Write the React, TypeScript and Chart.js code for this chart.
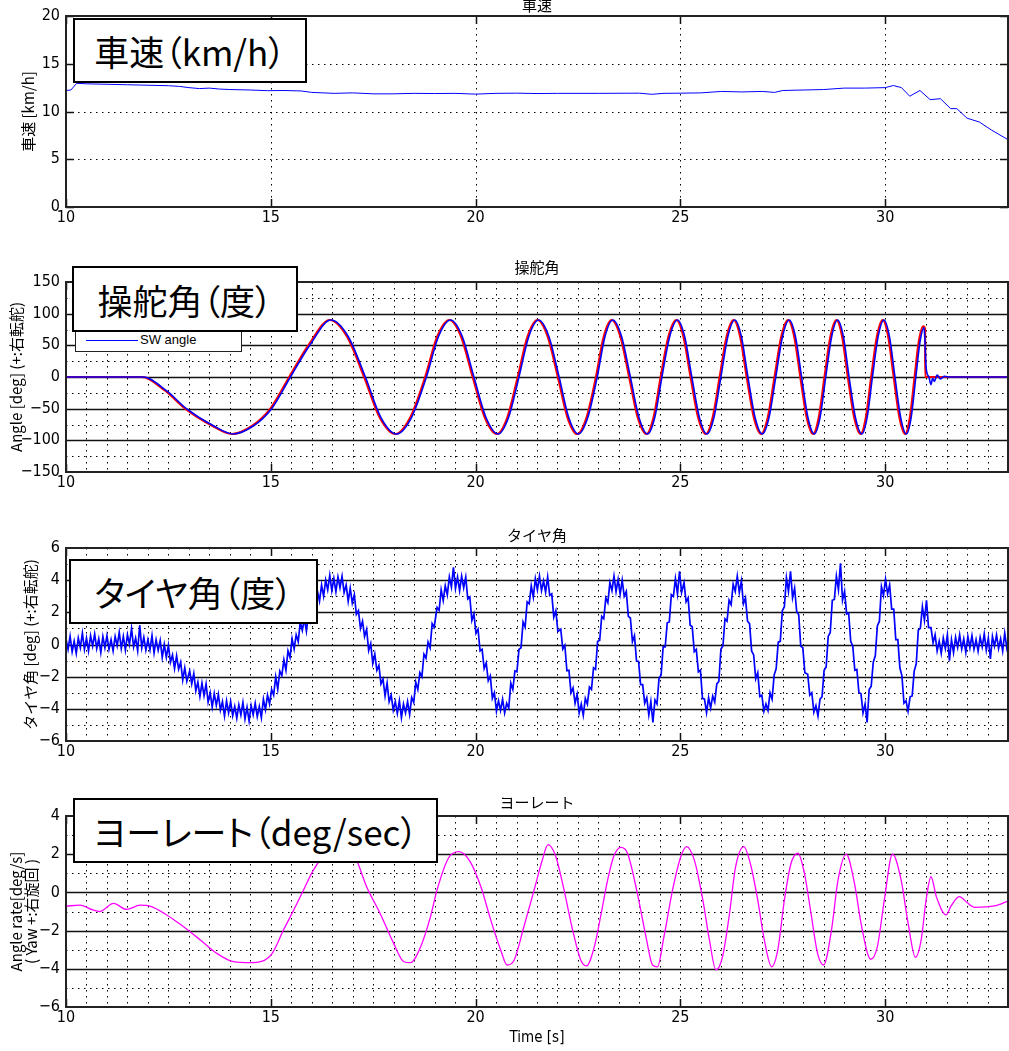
import React, { useEffect, useRef } from 'react';
import { Chart, registerables } from 'chart.js';

Chart.register(...registerables);

// ---------------- data ----------------
const X_MIN = 10;
const X_MAX = 33;
const X_TICK_LABELS = [10, 15, 20, 25, 30];

const Y1_TICKS = [0, 5, 10, 15, 20];
const Y2_TICKS = [-150, -100, -50, 0, 50, 100, 150];
const Y3_TICKS = [-6, -4, -2, 0, 2, 4, 6];
const Y4_TICKS = [-6, -4, -2, 0, 2, 4];

// vehicle speed [km/h]
const SPEED_T = [10.0, 10.12, 10.26, 10.5, 11.0, 11.5, 12.0, 12.5, 12.77, 13.0, 13.26, 13.5, 13.75, 14.0, 14.5, 14.92, 15.3, 15.74, 16.0, 16.55, 17.0, 17.5, 18.0, 18.5, 19.0, 19.5, 20.0, 20.5, 21.0, 21.5, 22.0, 23.0, 24.0, 24.3, 24.6, 25.0, 25.5, 26.0, 26.5, 27.0, 27.3, 27.5, 28.0, 28.5, 29.0, 29.5, 30.0, 30.2, 30.4, 30.6, 30.85, 31.1, 31.35, 31.6, 31.75, 32.0, 32.3, 32.6, 33.0];
const SPEED_V = [12.2, 12.25, 12.95, 12.9, 12.85, 12.8, 12.75, 12.7, 12.63, 12.5, 12.4, 12.45, 12.35, 12.3, 12.25, 12.18, 12.2, 12.15, 12.0, 11.9, 11.95, 11.85, 11.85, 11.9, 11.88, 11.9, 11.82, 11.9, 11.92, 11.88, 11.9, 11.9, 11.92, 11.8, 11.9, 11.92, 11.95, 12.1, 12.05, 12.1, 12.0, 12.2, 12.25, 12.3, 12.45, 12.45, 12.5, 12.72, 12.5, 11.6, 12.2, 11.24, 11.34, 10.3, 10.3, 9.3, 8.9, 8.05, 7.05];

// steering wheel angle, measured (blue) [deg]
const SW_T = [10, 11, 11.88, 12.46, 12.94, 13.6, 14.08, 14.58, 15.02, 15.48, 15.96, 16.47,
  16.89, 17.31, 17.69, 18.07, 18.435, 18.8, 19.095, 19.39, 19.675, 19.96, 20.255, 20.55, 20.805, 21.06, 21.3, 21.54,
  21.79, 22.04, 22.275, 22.51, 22.74, 22.97, 23.16, 23.35, 23.565, 23.78, 23.99, 24.2, 24.375, 24.55, 24.74, 24.93,
  25.105, 25.28, 25.465, 25.65, 25.82, 25.99, 26.16, 26.33, 26.49, 26.65, 26.825, 27.0, 27.165, 27.33, 27.495, 27.66,
  27.81, 27.96, 28.115, 28.27, 28.41, 28.55, 28.695, 28.84, 28.98, 29.12, 29.275, 29.43, 29.56, 29.69, 29.83, 29.97,
  30.105, 30.24, 30.38, 30.52, 30.635, 30.75,
  30.85, 30.95, 30.97, 31.0, 31.07, 31.12, 31.16, 31.2, 31.27, 31.35, 31.45, 31.6, 33];
const SW_V = [0, 0, 0, -22, -50, -77, -90, -77, -50, 0, 51, 90,
  64, 0, -64, -90, -64, 0, 64, 90, 64, 0, -64, -90, -64, 0, 64, 90,
  64, 0, -64, -90, -64, 0, 64, 90, 64, 0, -64, -90, -64, 0, 64, 90,
  64, 0, -64, -90, -64, 0, 64, 90, 64, 0, -64, -90, -64, 0, 64, 90,
  64, 0, -64, -90, -64, 0, 64, 90, 64, 0, -64, -90, -64, 0, 64, 90,
  64, 0, -64, -90, -64, 0,
  55, 78, 60, 15, 0, -12, -2, -7, 3, -3, 1, 0, 0];

// steering wheel angle, command (red) [deg]
const SWCMD_T = [10, 11.85, 12.43, 12.91, 13.57, 14.05, 14.55, 14.99, 15.45, 15.93, 16.44,
  16.86, 17.28, 17.66, 18.04, 18.405, 18.77, 19.065, 19.36, 19.645, 19.93, 20.225, 20.52, 20.775, 21.03, 21.27, 21.51,
  21.76, 22.01, 22.245, 22.48, 22.71, 22.94, 23.13, 23.32, 23.535, 23.75, 23.96, 24.17, 24.345, 24.52, 24.71, 24.9,
  25.075, 25.25, 25.435, 25.62, 25.79, 25.96, 26.13, 26.3, 26.46, 26.62, 26.795, 26.97, 27.135, 27.3, 27.465, 27.63,
  27.78, 27.93, 28.085, 28.24, 28.38, 28.52, 28.665, 28.81, 28.95, 29.09, 29.245, 29.4, 29.53, 29.66, 29.8, 29.94,
  30.075, 30.21, 30.35, 30.49, 30.605, 30.72,
  30.82, 30.93, 30.975, 30.98, 33];
const SWCMD_V = [0, 0, -22, -50, -77, -90, -77, -50, 0, 51, 90,
  64, 0, -64, -90, -64, 0, 64, 90, 64, 0, -64, -90, -64, 0, 64, 90,
  64, 0, -64, -90, -64, 0, 64, 90, 64, 0, -64, -90, -64, 0, 64, 90,
  64, 0, -64, -90, -64, 0, 64, 90, 64, 0, -64, -90, -64, 0, 64, 90,
  64, 0, -64, -90, -64, 0, 64, 90, 64, 0, -64, -90, -64, 0, 64, 90,
  64, 0, -64, -90, -64, 0,
  55, 80, 76, 0, 0];

// tyre angle [deg] (noisy measurement, read at ~0.05 s)
const TIRE_T = [
  10.00, 10.05, 10.10, 10.15, 10.20, 10.25, 10.30, 10.35, 10.40, 10.45, 10.50, 10.55, 10.60, 10.65, 10.70, 10.75, 10.80, 10.85, 10.90, 10.95,
  11.00, 11.05, 11.10, 11.15, 11.20, 11.25, 11.30, 11.35, 11.40, 11.45, 11.50, 11.55, 11.60, 11.65, 11.70, 11.75, 11.80, 11.85, 11.90, 11.95,
  12.00, 12.05, 12.10, 12.15, 12.20, 12.25, 12.30, 12.35, 12.40, 12.45, 12.50, 12.55, 12.60, 12.65, 12.70, 12.75, 12.80, 12.85, 12.90, 12.95,
  13.02, 13.07, 13.12, 13.17, 13.22, 13.27, 13.32, 13.37, 13.42, 13.47, 13.52, 13.57, 13.62, 13.67, 13.72, 13.77, 13.82, 13.87, 13.92, 13.97,
  14.02, 14.07, 14.12, 14.17, 14.22, 14.27, 14.32, 14.37, 14.42, 14.47, 14.52, 14.57, 14.62, 14.67, 14.72, 14.77, 14.82, 14.87, 14.92, 14.97,
  15.02, 15.07, 15.12, 15.17, 15.22, 15.27, 15.32, 15.37, 15.42, 15.47, 15.52, 15.57, 15.62, 15.67, 15.72, 15.77, 15.82, 15.87, 15.92, 15.97,
  16.04, 16.09, 16.14, 16.19, 16.24, 16.29, 16.34, 16.39, 16.44, 16.49, 16.54, 16.59, 16.64, 16.69, 16.74, 16.79, 16.84, 16.89, 16.94, 16.99,
  17.04, 17.09, 17.14, 17.19, 17.24, 17.29, 17.34, 17.39, 17.44, 17.49, 17.54, 17.59, 17.64, 17.69, 17.74, 17.79, 17.84, 17.89, 17.94, 17.99,
  18.04, 18.09, 18.14, 18.19, 18.24, 18.29, 18.34, 18.39, 18.44, 18.49, 18.54, 18.59, 18.64, 18.69, 18.74, 18.79, 18.84, 18.89, 18.94, 18.99,
  19.06, 19.11, 19.16, 19.21, 19.26, 19.31, 19.36, 19.41, 19.46, 19.51, 19.56, 19.61, 19.66, 19.71, 19.76, 19.81, 19.86, 19.91, 19.96, 20.01,
  20.06, 20.11, 20.16, 20.21, 20.26, 20.31, 20.36, 20.41, 20.46, 20.51, 20.56, 20.61, 20.66, 20.71, 20.76, 20.81, 20.86, 20.91, 20.96, 21.01,
  21.06, 21.11, 21.16, 21.21, 21.26, 21.31, 21.36, 21.41, 21.46, 21.51, 21.56, 21.61, 21.66, 21.71, 21.76, 21.81, 21.86, 21.91, 21.96, 22.01,
  22.08, 22.13, 22.18, 22.23, 22.28, 22.33, 22.38, 22.43, 22.48, 22.53, 22.58, 22.63, 22.68, 22.73, 22.78, 22.83, 22.88, 22.93, 22.98, 23.03,
  23.08, 23.13, 23.18, 23.23, 23.28, 23.33, 23.38, 23.43, 23.48, 23.53, 23.58, 23.63, 23.68, 23.73, 23.78, 23.83, 23.88, 23.93, 23.98, 24.03,
  24.08, 24.13, 24.18, 24.23, 24.28, 24.33, 24.38, 24.43, 24.48, 24.53, 24.58, 24.63, 24.68, 24.73, 24.78, 24.83, 24.88, 24.93, 24.98, 25.03,
  25.09, 25.14, 25.19, 25.24, 25.29, 25.34, 25.39, 25.44, 25.49, 25.54, 25.59, 25.64, 25.69, 25.74, 25.79, 25.84, 25.89, 25.94, 25.99, 26.04,
  26.09, 26.14, 26.19, 26.24, 26.29, 26.34, 26.39, 26.44, 26.49, 26.54, 26.59, 26.64, 26.69, 26.74, 26.79, 26.84, 26.89, 26.94, 26.99, 27.04,
  27.09, 27.14, 27.19, 27.24, 27.29, 27.34, 27.39, 27.44, 27.49, 27.54, 27.59, 27.64, 27.69, 27.74, 27.79, 27.84, 27.89, 27.94, 27.99, 28.04,
  28.11, 28.16, 28.21, 28.26, 28.31, 28.36, 28.41, 28.46, 28.51, 28.56, 28.61, 28.66, 28.71, 28.76, 28.81, 28.86, 28.91, 28.96, 29.01, 29.06,
  29.11, 29.16, 29.21, 29.26, 29.31, 29.36, 29.41, 29.46, 29.51, 29.56, 29.61, 29.66, 29.71, 29.76, 29.81, 29.86, 29.91, 29.96, 30.01, 30.06,
  30.11, 30.16, 30.21, 30.26, 30.31, 30.36, 30.41, 30.46, 30.51, 30.56, 30.61, 30.66, 30.71, 30.76, 30.81, 30.86, 30.91, 30.96, 31.01, 31.06,
  31.12, 31.17, 31.22, 31.27, 31.32, 31.37, 31.42, 31.47, 31.52, 31.57, 31.62, 31.67, 31.72, 31.77, 31.82, 31.87, 31.92, 31.97, 32.02, 32.07,
  32.12, 32.17, 32.22, 32.27, 32.32, 32.37, 32.42, 32.47, 32.52, 32.57, 32.62, 32.67, 32.72, 32.77, 32.82, 32.87, 32.92, 32.97, 33.02, 33.07, 33.12];
const TIRE_V = [
  0.35, -0.30, 0.50, -0.45, 0.20, -0.55, 0.40, -0.20, 0.70, -0.30, 0.40, -0.40, 0.55, -0.10, 0.65, -0.25, 0.35, -0.50, 0.50, -0.20,
  0.55, -0.30, 0.30, -0.40, 0.50, -0.08, 0.75, -0.25, 0.50, -0.35, 0.60, 0.00, 1.00, -0.15, 0.40, -0.38, 1.20, -0.20, 0.45, -0.35,
  0.30, -0.33, 0.55, -0.53, 0.30, -0.35, 0.25, -0.80, 0.00, -0.80, -0.05, -1.10, -0.65, -1.50, -0.70, -1.53, -1.10, -2.20, -1.45, -2.28,
  -1.65, -2.45, -1.80, -2.88, -2.35, -3.23, -2.40, -3.18, -2.45, -3.58, -3.00, -3.90, -3.05, -3.78, -3.10, -4.08, -3.55, -4.45, -3.50, -4.25,
  -3.55, -4.43, -3.85, -4.58, -3.75, -4.38, -3.60, -4.63, -3.90, -4.75, -3.80, -4.38, -3.65, -4.48, -3.85, -4.55, -3.40, -4.05, -3.15, -3.70,
  -2.80, -3.15, -2.00, -2.78, -1.65, -1.93, -0.95, -1.60, -0.40, -0.80, 0.35, -0.28, 0.60, 0.18, 1.40, 0.88, 1.60, 0.83, 1.90, 1.45,
  2.45, 2.15, 3.30, 2.70, 3.70, 3.00, 4.00, 3.40, 4.30, 3.35, 4.10, 3.28, 4.20, 3.53, 4.25, 3.23, 3.70, 2.68, 3.50, 2.58,
  3.10, 1.88, 2.10, 1.00, 1.45, 0.50, 0.95, -0.38, 0.05, -1.18, -0.60, -1.60, -1.30, -2.45, -2.15, -3.20, -2.40, -3.55, -3.15, -4.08,
  -3.55, -4.28, -3.50, -4.55, -3.70, -4.25, -3.55, -4.35, -3.30, -3.60, -2.35, -2.80, -1.75, -2.00, -0.60, -0.85, 0.15, -0.20, 1.30, 1.08,
  2.30, 2.13, 3.40, 2.73, 3.65, 3.08, 4.20, 3.58, 4.80, 3.48, 4.20, 3.35, 4.25, 3.53, 4.20, 2.83, 2.95, 1.50, 1.90, 0.70,
  0.95, -0.40, -0.30, -1.50, -1.15, -2.25, -1.95, -3.35, -3.00, -4.15, -3.50, -4.10, -3.40, -4.25, -3.65, -3.95, -2.40, -2.80, -1.65, -1.70,
  -0.30, -0.20, 1.40, 1.08, 2.65, 2.53, 3.65, 2.95, 4.10, 3.40, 4.25, 3.35, 3.95, 3.25, 4.20, 3.05, 3.15, 1.70, 2.10, 0.80,
  0.95, -0.28, -0.05, -1.63, -1.60, -3.00, -2.70, -3.65, -3.10, -4.25, -3.70, -4.40, -3.35, -3.70, -2.65, -2.80, -1.45, -1.55, 0.20, 0.25,
  1.75, 1.60, 2.90, 2.60, 3.85, 3.35, 4.25, 3.28, 4.05, 3.13, 4.00, 3.00, 3.30, 1.75, 1.65, 0.18, 0.55, -1.03, -1.05, -2.50,
  -2.50, -3.65, -3.30, -4.38, -3.55, -4.85, -3.45, -3.70, -2.10, -1.90, -0.15, -0.15, 1.35, 1.40, 3.10, 2.98, 4.10, 3.15, 4.55, 3.23,
  3.85, 2.65, 2.90, 1.20, 1.10, -0.45, -0.30, -1.70, -1.60, -3.35, -3.40, -4.23, -3.30, -3.95, -3.20, -3.58, -2.45, -2.30, -0.30, -0.08,
  1.60, 1.45, 2.75, 2.48, 3.75, 3.30, 4.25, 3.23, 3.95, 2.53, 2.90, 1.45, 1.30, -0.40, -0.65, -2.13, -1.75, -3.23, -3.15, -4.15,
  -3.70, -4.10, -3.00, -3.40, -1.90, -1.50, 0.15, 0.20, 2.10, 2.35, 4.15, 3.30, 4.55, 2.90, 3.50, 2.05, 1.85, -0.10, -0.20, -1.75,
  -1.85, -3.15, -3.00, -4.20, -3.80, -4.45, -3.40, -3.25, -1.60, -1.40, 0.50, 0.75, 2.75, 2.80, 4.25, 3.40, 5.05, 2.75, 3.30, 1.90,
  1.95, 0.20, -0.10, -1.60, -1.55, -3.00, -3.05, -4.25, -3.70, -4.85, -2.80, -2.60, -1.10, -0.70, 1.15, 1.45, 3.60, 3.05, 4.05, 3.15,
  3.70, 2.20, 2.20, 0.30, 0.30, -1.45, -1.95, -3.65, -3.50, -4.15, -3.25, -3.20, -1.65, -1.20, 0.90, 1.00, 2.35, 1.50, 2.75, 1.05,
  1.05, 0.10, 0.60, -0.40, 0.20, -0.55, 0.40, -0.25, 0.60, -1.00, 0.30, -0.50, 0.45, -0.18, 0.60, -0.28, 0.35, -0.50, 0.50, -0.20,
  0.55, -0.30, 0.30, -0.40, 0.45, -0.15, 0.65, -0.35, 0.40, -0.90, 0.50, -0.10, 0.60, -0.25, 0.35, -0.40, 0.70, -0.20, 0.45, -0.35, 0.40];

// yaw rate [deg/s]
const YAW_T = [10.0, 10.34, 10.66, 10.82, 11.16, 11.48, 11.81, 12.05, 12.46, 12.87, 13.28, 13.68, 14.09, 14.5, 14.75, 15.03, 15.31, 15.56, 15.8, 16.04, 16.25, 16.49, 16.74, 16.94, 17.07, 17.34, 17.67, 18.0, 18.25, 18.41, 18.66, 18.9, 19.06, 19.34, 19.59, 19.87, 20.13, 20.37, 20.61, 20.77, 20.94, 21.18, 21.43, 21.63, 21.77, 21.96, 22.16, 22.37, 22.57, 22.71, 22.9, 23.05, 23.22, 23.37, 23.55, 23.71, 23.95, 24.16, 24.32, 24.44, 24.6, 24.81, 25.01, 25.15, 25.34, 25.55, 25.71, 25.87, 26.03, 26.19, 26.35, 26.55, 26.71, 26.89, 27.05, 27.23, 27.38, 27.54, 27.7, 27.87, 28.03, 28.19, 28.35, 28.5, 28.69, 28.85, 29.05, 29.25, 29.41, 29.57, 29.65, 29.81, 29.98, 30.18, 30.39, 30.56, 30.74, 30.88, 31.0, 31.12, 31.25, 31.49, 31.61, 31.81, 32.02, 32.18, 32.67, 33.0];
const YAW_V = [-0.72, -0.67, -0.92, -1.0, -0.57, -0.89, -0.67, -0.72, -1.18, -1.8, -2.49, -3.19, -3.63, -3.68, -3.63, -3.2, -1.97, -0.92, 0.13, 1.17, 1.8, 2.2, 2.3, 2.1, 1.8, 0.3, -1.1, -2.67, -3.63, -3.68, -2.84, -1.27, 0.13, 1.8, 2.13, 1.6, 0.3, -1.44, -3.0, -3.8, -3.55, -1.8, 0.13, 1.7, 2.5, 1.87, 0.13, -1.97, -3.55, -3.85, -2.84, -1.3, 0.6, 1.87, 2.36, 2.05, -0.05, -2.32, -3.8, -3.9, -2.32, 0.13, 1.87, 2.4, 1.7, -0.4, -2.49, -4.06, -3.37, -1.27, 1.35, 2.4, 1.5, -0.4, -2.49, -3.9, -3.0, -0.4, 1.5, 2.05, 1.0, -1.1, -3.19, -3.8, -1.97, 0.65, 2.0, 0.48, -1.6, -3.19, -3.5, -2.84, -0.4, 2.0, 0.65, -1.6, -3.4, -2.49, -0.4, 0.82, -0.22, -1.18, -0.71, -0.22, -0.57, -0.78, -0.71, -0.45];

// ---------------- styling / layout ----------------
const TICK_FAMILY = '"Liberation Sans Narrow", "Arial Narrow", "DejaVu Sans Condensed", sans-serif';
const JP_FAMILY = '"Noto Sans CJK JP", "Noto Sans", sans-serif';

const pts = (ts: number[], vs: number[]) => ts.map((t, i) => ({ x: t, y: vs[i] }));
const fmtY = (v: number) => (v < 0 ? '\u2212' + Math.abs(v) : String(v));

type PanelCfg = {
  top: number;
  height: number;
  padTop: number;
  padBottom: number;
  yMin: number;
  yMax: number;
  yStep: number;
  yLabels: number[];
  ySolid: number[];
  xStep: number;
  yInnerTicks: boolean;
  title: string;
  titlePad: number;
  yTitle: string | string[];
  yTitlePad: number;
  yTitleLH: number;
  xTitle?: string;
  datasets: any[];
};

function matlabAxes(cfg: PanelCfg) {
  return {
    id: 'matlabAxes',
    beforeDatasetsDraw(chart: any) {
      const { ctx, chartArea: a } = chart;
      const xs = chart.scales.x;
      const ys = chart.scales.y;
      ctx.save();
      ctx.strokeStyle = '#000';
      ctx.lineWidth = 1;
      ctx.setLineDash([1.5, 4.5]);
      for (const t of xs.ticks) {
        if (t.value <= X_MIN || t.value >= X_MAX) continue;
        const px = Math.round(xs.getPixelForValue(t.value)) + 0.5;
        ctx.beginPath();
        ctx.moveTo(px, a.top);
        ctx.lineTo(px, a.bottom);
        ctx.stroke();
      }
      for (const t of ys.ticks) {
        if (t.value <= cfg.yMin || t.value >= cfg.yMax) continue;
        if (cfg.ySolid.includes(t.value)) continue;
        const py = Math.round(ys.getPixelForValue(t.value)) + 0.5;
        ctx.beginPath();
        ctx.moveTo(a.left, py);
        ctx.lineTo(a.right, py);
        ctx.stroke();
      }
      ctx.setLineDash([]);
      ctx.lineWidth = 1.6;
      ctx.strokeStyle = '#111';
      for (const v of cfg.ySolid) {
        const py = Math.round(ys.getPixelForValue(v)) + 0.5;
        ctx.beginPath();
        ctx.moveTo(a.left, py);
        ctx.lineTo(a.right, py);
        ctx.stroke();
      }
      ctx.restore();
    },
    afterDatasetsDraw(chart: any) {
      const { ctx, chartArea: a } = chart;
      const xs = chart.scales.x;
      const ys = chart.scales.y;
      ctx.save();
      ctx.strokeStyle = '#111';
      ctx.lineWidth = 1.5;
      const tl = 8;
      for (const v of X_TICK_LABELS) {
        const px = Math.round(xs.getPixelForValue(v)) + 0.5;
        ctx.beginPath();
        ctx.moveTo(px, a.top);
        ctx.lineTo(px, a.top + tl);
        ctx.moveTo(px, a.bottom);
        ctx.lineTo(px, a.bottom - tl);
        ctx.stroke();
      }
      if (cfg.yInnerTicks) {
        for (const v of cfg.yLabels) {
          const py = Math.round(ys.getPixelForValue(v)) + 0.5;
          ctx.beginPath();
          ctx.moveTo(a.left, py);
          ctx.lineTo(a.left + tl, py);
          ctx.moveTo(a.right, py);
          ctx.lineTo(a.right - tl, py);
          ctx.stroke();
        }
      }
      ctx.strokeStyle = '#222';
      ctx.lineWidth = 2;
      ctx.strokeRect(a.left, a.top, a.right - a.left, a.bottom - a.top);
      ctx.restore();
    },
  };
}

function Panel({ cfg }: { cfg: PanelCfg }) {
  const ref = useRef<HTMLCanvasElement>(null);
  useEffect(() => {
    const chart = new Chart(ref.current as HTMLCanvasElement, {
      type: 'line',
      data: { datasets: cfg.datasets },
      options: {
        animation: false,
        responsive: false,
        devicePixelRatio: 1,
        events: [],
        layout: { padding: { left: 0, right: 1, top: 0, bottom: 0 } },
        plugins: { legend: { display: false }, tooltip: { enabled: false }, title: { display: false } },
        elements: { point: { radius: 0 } },
        scales: {
          x: {
            type: 'linear',
            position: 'bottom',
            min: X_MIN,
            max: X_MAX,
            afterFit: (s: any) => { s.height = cfg.padBottom; },
            grid: { display: false, drawTicks: false },
            border: { display: false },
            ticks: {
              stepSize: cfg.xStep,
              autoSkip: false,
              includeBounds: false,
              maxRotation: 0,
              minRotation: 0,
              padding: 1,
              color: '#000',
              font: { family: TICK_FAMILY, size: 16 },
              callback: (v: any) => (X_TICK_LABELS.includes(Number(v)) ? String(v) : ''),
            },
            title: {
              display: !!cfg.xTitle,
              text: cfg.xTitle || '',
              color: '#000',
              font: { family: TICK_FAMILY, size: 15 },
              padding: { top: 0, bottom: 4 },
            },
          },
          x2: {
            type: 'linear',
            position: 'top',
            min: X_MIN,
            max: X_MAX,
            afterFit: (s: any) => { s.height = cfg.padTop; },
            grid: { display: false, drawTicks: false },
            border: { display: false },
            ticks: { display: false },
            title: {
              display: true,
              text: cfg.title,
              color: '#000',
              font: { family: JP_FAMILY, size: 15 },
              padding: { top: cfg.titlePad, bottom: 0 },
            },
          },
          y: {
            type: 'linear',
            position: 'left',
            min: cfg.yMin,
            max: cfg.yMax,
            afterFit: (s: any) => { s.width = 66; },
            grid: { display: false, drawTicks: false },
            border: { display: false },
            ticks: {
              stepSize: cfg.yStep,
              autoSkip: false,
              padding: 6,
              color: '#000',
              font: { family: TICK_FAMILY, size: 16 },
              callback: (v: any) => (cfg.yLabels.includes(Number(v)) ? fmtY(Number(v)) : ''),
            },
            title: {
              display: true,
              text: cfg.yTitle,
              color: '#000',
              font: { family: JP_FAMILY, size: 15, lineHeight: cfg.yTitleLH },
              padding: { top: cfg.yTitlePad, bottom: 0 },
            },
          },
        },
      } as any,
      plugins: [matlabAxes(cfg)],
    });
    return () => chart.destroy();
  }, []);
  return (
    <canvas
      ref={ref}
      width={1009}
      height={cfg.height}
      style={{ position: 'absolute', left: 0, top: cfg.top, width: 1009, height: cfg.height }}
    />
  );
}

const PANELS: PanelCfg[] = [
  {
    top: -10, height: 247, padTop: 26, padBottom: 30,
    yMin: 0, yMax: 20, yStep: 5, yLabels: Y1_TICKS, ySolid: [], xStep: 5, yInnerTicks: true,
    title: '車速', titlePad: 6, yTitle: '車速 [km/h]', yTitlePad: 19, yTitleLH: 1.2,
    datasets: [
      { data: pts(SPEED_T, SPEED_V), borderColor: '#0000ff', borderWidth: 1, tension: 0, xAxisID: 'x', yAxisID: 'y' },
    ],
  },
  {
    top: 250, height: 252, padTop: 32, padBottom: 30,
    yMin: -150, yMax: 150, yStep: 25, yLabels: Y2_TICKS, ySolid: [-100, -50, 0, 50, 100], xStep: 0.5, yInnerTicks: false,
    title: '操舵角', titlePad: 8, yTitle: 'Angle [deg] (+:右転舵)', yTitlePad: 7, yTitleLH: 1.2,
    datasets: [
      { label: 'SW angle', data: pts(SW_T, SW_V), borderColor: '#0000ff', borderWidth: 1.6, cubicInterpolationMode: 'monotone', xAxisID: 'x', yAxisID: 'y' },
      { label: 'SW command', data: pts(SWCMD_T, SWCMD_V), borderColor: '#ff0000', borderWidth: 2.2, cubicInterpolationMode: 'monotone', xAxisID: 'x', yAxisID: 'y' },
    ],
  },
  {
    top: 515, height: 256, padTop: 33, padBottom: 30,
    yMin: -6, yMax: 6, yStep: 1, yLabels: Y3_TICKS, ySolid: [-4, -2, 0, 2, 4], xStep: 0.5, yInnerTicks: false,
    title: 'タイヤ角', titlePad: 11, yTitle: 'タイヤ角 [deg] (+:右転舵)', yTitlePad: 21, yTitleLH: 1.2,
    datasets: [
      { data: pts(TIRE_T, TIRE_V), borderColor: '#0000ff', borderWidth: 1.7, tension: 0, xAxisID: 'x', yAxisID: 'y' },
    ],
  },
  {
    top: 785, height: 266, padTop: 31, padBottom: 44,
    yMin: -6, yMax: 4, yStep: 1, yLabels: Y4_TICKS, ySolid: [-4, -2, 0, 2], xStep: 0.5, yInnerTicks: false,
    title: 'ヨーレート', titlePad: 8, yTitle: ['Angle rate[deg/s]', '( Yaw +:右旋回 )'], yTitlePad: 9, yTitleLH: 1.0,
    xTitle: 'Time [s]',
    datasets: [
      { data: pts(YAW_T, YAW_V), borderColor: '#ff00ff', borderWidth: 1.3, cubicInterpolationMode: 'monotone', xAxisID: 'x', yAxisID: 'y' },
    ],
  },
];

const LABEL_BOXES = [
  { text: '車速（km/h）', left: 73, top: 18, width: 234, height: 65 },
  { text: '操舵角（度）', left: 72, top: 266, width: 226, height: 66 },
  { text: 'タイヤ角（度）', left: 69, top: 559, width: 249, height: 65 },
  { text: 'ヨーレート（deg/sec）', left: 73, top: 798, width: 365, height: 65 },
];

export default function App() {
  return (
    <div style={{ position: 'absolute', left: 0, top: 0, width: 1009, height: 1051, background: '#fff', overflow: 'hidden' }}>
      {PANELS.map((p, i) => (
        <Panel key={i} cfg={p} />
      ))}
      {/* legend of the steering-angle panel */}
      <div
        style={{
          position: 'absolute', left: 75, top: 310, width: 167, height: 42, boxSizing: 'border-box',
          border: '1px solid #222', background: '#fff',
        }}
      >
        <div style={{ position: 'absolute', left: 10, top: 29, width: 52, height: 0, borderTop: '1.5px solid #0000ff' }} />
        <div
          style={{
            position: 'absolute', left: 64, top: 21, fontFamily: '"Liberation Sans", sans-serif', fontSize: 13,
            lineHeight: '16px', color: '#000', whiteSpace: 'nowrap',
          }}
        >
          SW angle
        </div>
      </div>
      {LABEL_BOXES.map((b, i) => (
        <div
          key={i}
          style={{
            position: 'absolute', left: b.left, top: b.top, width: b.width, height: b.height, boxSizing: 'border-box',
            border: '2px solid #000', background: '#fff', display: 'flex', alignItems: 'center', justifyContent: 'center',
            fontFamily: JP_FAMILY, fontSize: 35, lineHeight: 1, color: '#000', whiteSpace: 'nowrap',
            fontFeatureSettings: '"palt"',
          }}
        >
          {b.text}
        </div>
      ))}
    </div>
  );
}
